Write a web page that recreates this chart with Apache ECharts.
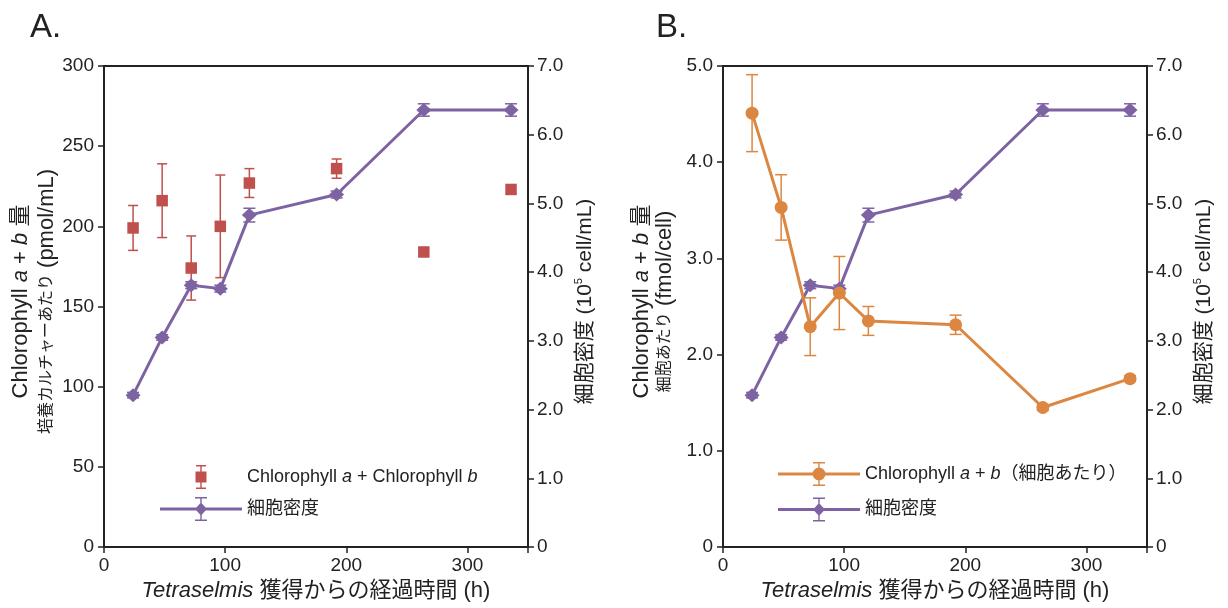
<!DOCTYPE html>
<html><head><meta charset="utf-8">
<script src="https://cdn.jsdelivr.net/npm/echarts@6/dist/echarts.min.js"></script>
<style>html,body{margin:0;padding:0;background:#fff}#c{width:1228px;height:608px}</style>
</head><body><div id="c"></div>
<script>
// ---- data ----
const hours = [24, 48, 72, 96, 120, 192, 264, 336];
const chlPerCulture = [199, 216, 174, 200, 227, 236, 184, 223];
const chlPerCultureErr = [14, 23, 20, 32, 9, 6, 0, 0];
const cellDensity = [2.21, 3.05, 3.81, 3.76, 4.83, 5.13, 6.36, 6.36];
const cellDensityErr = [0.04, 0.04, 0.05, 0.05, 0.10, 0.05, 0.09, 0.09];
const chlPerCell = [4.51, 3.53, 2.29, 2.64, 2.35, 2.31, 1.45, 1.75];
const chlPerCellErr = [0.40, 0.34, 0.30, 0.38, 0.15, 0.10, 0.03, 0.03];
const xTickLabels = [0, 100, 200, 300];
const legendLabels = {
  chlA: '{n|Chlorophyll }{i|a}{n| + Chlorophyll }{i|b}',
  densA: '{n|細胞密度}',
  chlB: '{n|Chlorophyll }{i|a}{n| + }{i|b}{n|（細胞あたり）}',
  densB: '{n|細胞密度}'
};

const FONT = "'Liberation Sans', Arial, 'Noto Sans CJK JP', sans-serif";
const INK = '#222';
const RED = '#C0504D', PURPLE = '#7E63A3', ORANGE = '#DB8742';

const chart = echarts.init(document.getElementById('c'), null, {renderer: 'canvas'});

function errSeries(xi, yi, ys, errs, color, cap) {
  const data = [];
  hours.forEach((h, i) => { if (errs[i] > 0) data.push([h, ys[i] - errs[i], ys[i] + errs[i]]); });
  return {
    type: 'custom', xAxisIndex: xi, yAxisIndex: yi, silent: true, animation: false,
    encode: {x: 0, y: [1, 2]}, data,
    renderItem(params, api) {
      const x = api.value(0);
      const p1 = api.coord([x, api.value(1)]), p2 = api.coord([x, api.value(2)]);
      const st = {stroke: color, lineWidth: 1.5};
      return {type: 'group', children: [
        {type: 'line', shape: {x1: p1[0], y1: p1[1], x2: p2[0], y2: p2[1]}, style: st},
        {type: 'line', shape: {x1: p1[0] - cap, y1: p1[1], x2: p1[0] + cap, y2: p1[1]}, style: st},
        {type: 'line', shape: {x1: p2[0] - cap, y1: p2[1], x2: p2[0] + cap, y2: p2[1]}, style: st}
      ]};
    }
  };
}

const axisLineStyle = {show: true, lineStyle: {color: INK, width: 2}};
const tickStyle = {show: true, inside: false, length: 6, lineStyle: {color: INK, width: 1.5}};
const fmt1 = v => (v === 0 ? '0' : v.toFixed(1));

function xAxisFor(gi) {
  return {
    type: 'value', gridIndex: gi, min: 0, max: 350, interval: 100,
    axisLine: axisLineStyle, axisTick: tickStyle, splitLine: {show: false},
    axisLabel: {color: INK, fontSize: 19, fontFamily: FONT, margin: 9,
      formatter: v => (xTickLabels.indexOf(v) >= 0 ? String(v) : '')},
    name: '{i|Tetraselmis}{n| 獲得からの経過時間 (h)}',
    nameLocation: 'middle', nameGap: 32,
    nameTextStyle: {color: INK, fontFamily: FONT, fontSize: 22, rich: {
      i: {fontStyle: 'italic', fontSize: 22, fontFamily: FONT, color: INK},
      n: {fontSize: 22, fontFamily: FONT, color: INK}
    }}
  };
}

function leftTitleRich(lh1) {
  return {
    a: {fontSize: 22, fontFamily: FONT, color: INK, lineHeight: lh1},
    ai: {fontSize: 22, fontFamily: FONT, color: INK, fontStyle: 'italic', lineHeight: lh1},
    c: {fontSize: 16, fontFamily: FONT, color: INK, lineHeight: 24},
    a2: {fontSize: 22, fontFamily: FONT, color: INK, lineHeight: 24}
  };
}
const rightTitleRich = {
  t: {fontSize: 21, fontFamily: FONT, color: INK, lineHeight: 24},
  s: {fontSize: 11, fontFamily: FONT, color: INK, lineHeight: 24, verticalAlign: 'top', padding: [0, 0, 8, 0]}
};
const rightName = '{t|細胞密度 (10}{s|5}{t| cell/mL)}';

function yAxisFor(gi, pos, max, interval, formatter, name, gap, rich) {
  return {
    type: 'value', gridIndex: gi, position: pos, min: 0, max, interval,
    axisLine: axisLineStyle, axisTick: tickStyle, splitLine: {show: false},
    axisLabel: {color: INK, fontSize: 19, fontFamily: FONT, margin: pos === 'left' ? 10 : 9, formatter},
    name, nameLocation: 'middle', nameGap: gap, nameRotate: 90,
    nameTextStyle: {color: INK, fontFamily: FONT, fontSize: 22, padding: [0, 0, 0, 10], rich}
  };
}

// legend icons (82 x 24 box)
const EXT = 'M0 12 L0.01 12 L0 12.01 Z M82 12 L81.99 12 L82 12.01 Z ';
const BAR = 'M40.3 0 L41.7 0 L41.7 24 L40.3 24 Z M35 0 L47 0 L47 1.4 L35 1.4 Z M35 22.6 L47 22.6 L47 24 L35 24 Z ';
const BAR_S = 'M40.3 0 L41.7 0 L41.7 24 L40.3 24 Z M36 0 L46 0 L46 1.4 L36 1.4 Z M36 22.6 L46 22.6 L46 24 L36 24 Z ';
const LINE = 'M0 10.5 L82 10.5 L82 13.5 L0 13.5 Z ';
const iconSquare = 'path://' + EXT + BAR_S + 'M35.5 6.5 L46.5 6.5 L46.5 17.5 L35.5 17.5 Z';
const iconDiamond = 'path://' + EXT + LINE + BAR + 'M41 5.5 L47 12 L41 18.5 L35 12 Z';
const iconCircle = 'path://' + EXT + LINE + BAR + 'M34.5 12 A6.5 6.5 0 1 1 47.5 12 A6.5 6.5 0 1 1 34.5 12 Z';

const legendRich = {
  n: {fontSize: 18, fontFamily: FONT, color: INK},
  i: {fontSize: 18, fontFamily: FONT, color: INK, fontStyle: 'italic'}
};
function legendFor(left, top, gap, items) {
  return {
    orient: 'vertical', left, top, itemWidth: 82, itemHeight: 24, itemGap: gap,
    padding: 0, selectedMode: false, symbolKeepAspect: true,
    itemStyle: {borderWidth: 0, opacity: 1},
    textStyle: {color: INK, fontSize: 18, fontFamily: FONT, rich: legendRich},
    formatter: name => legendLabels[name],
    data: items
  };
}

const option = {
  animation: false,
  backgroundColor: '#fff',
  title: [
    {text: 'A.', left: 30, top: 11, padding: 0, textStyle: {fontSize: 33, fontWeight: 'normal', color: INK, fontFamily: FONT}},
    {text: 'B.', left: 656, top: 11, padding: 0, textStyle: {fontSize: 33, fontWeight: 'normal', color: INK, fontFamily: FONT}}
  ],
  grid: [
    {left: 104, top: 66, width: 424, height: 481, show: true, borderColor: INK, borderWidth: 2, containLabel: false, outerBoundsMode: 'none'},
    {left: 723, top: 66, width: 424, height: 481, show: true, borderColor: INK, borderWidth: 2, containLabel: false, outerBoundsMode: 'none'}
  ],
  xAxis: [xAxisFor(0), xAxisFor(1)],
  yAxis: [
    yAxisFor(0, 'left', 300, 50, null,
      '{a|Chlorophyll }{ai|a}{a| + }{ai|b}{a| 量}\n{c|培養カルチャーあたり}{a2| (pmol/mL)}', 45, leftTitleRich(28)),
    yAxisFor(0, 'right', 7, 1, fmt1, rightName, 45, rightTitleRich),
    yAxisFor(1, 'left', 5, 1, fmt1,
      '{a|Chlorophyll }{ai|a}{a| + }{ai|b}{a| 量}\n{c|細胞あたり}{a2| (fmol/cell)}', 46, leftTitleRich(22)),
    yAxisFor(1, 'right', 7, 1, fmt1, rightName, 45, rightTitleRich)
  ],
  legend: [
    legendFor(160, 465, 8, [{name: 'chlA', icon: iconSquare}, {name: 'densA', icon: iconDiamond}]),
    legendFor(778, 462, 11.5, [{name: 'chlB', icon: iconCircle}, {name: 'densB', icon: iconDiamond}])
  ],
  series: [
    errSeries(0, 0, chlPerCulture, chlPerCultureErr, RED, 5),
    {name: 'chlA', type: 'scatter', xAxisIndex: 0, yAxisIndex: 0, symbol: 'rect', symbolSize: 11.5,
      itemStyle: {color: RED, borderWidth: 0, opacity: 1}, emphasis: {disabled: true},
      data: hours.map((h, i) => [h, chlPerCulture[i]])},
    errSeries(0, 1, cellDensity, cellDensityErr, PURPLE, 6),
    {name: 'densA', type: 'line', xAxisIndex: 0, yAxisIndex: 1, symbol: 'diamond', symbolSize: [15, 14],
      showSymbol: true, lineStyle: {color: PURPLE, width: 3}, itemStyle: {color: PURPLE, borderWidth: 0, opacity: 1},
      emphasis: {disabled: true}, data: hours.map((h, i) => [h, cellDensity[i]])},
    errSeries(1, 3, cellDensity, cellDensityErr, PURPLE, 6),
    {name: 'densB', type: 'line', xAxisIndex: 1, yAxisIndex: 3, symbol: 'diamond', symbolSize: [15, 14],
      showSymbol: true, lineStyle: {color: PURPLE, width: 3}, itemStyle: {color: PURPLE, borderWidth: 0, opacity: 1},
      emphasis: {disabled: true}, data: hours.map((h, i) => [h, cellDensity[i]])},
    errSeries(1, 2, chlPerCell, chlPerCellErr, ORANGE, 6),
    {name: 'chlB', type: 'line', xAxisIndex: 1, yAxisIndex: 2, symbol: 'circle', symbolSize: 13,
      showSymbol: true, lineStyle: {color: ORANGE, width: 3}, itemStyle: {color: ORANGE, borderWidth: 0, opacity: 1},
      emphasis: {disabled: true}, data: hours.map((h, i) => [h, chlPerCell[i]])}
  ]
};
chart.setOption(option);
</script>
</body></html>
